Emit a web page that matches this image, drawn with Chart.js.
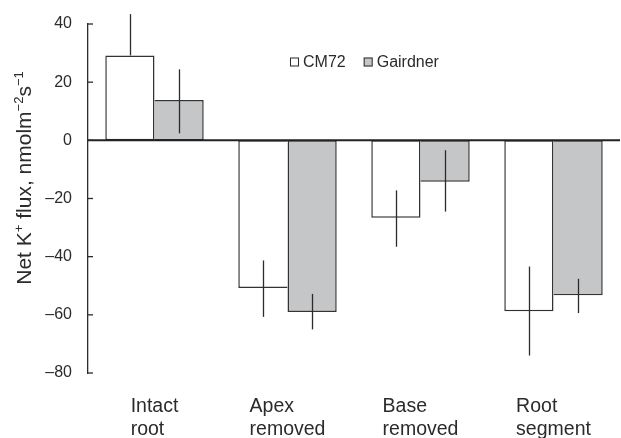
<!DOCTYPE html>
<html>
<head>
<meta charset="utf-8">
<script src="https://cdn.jsdelivr.net/npm/chart.js@4.4.0/dist/chart.umd.min.js"></script>
<style>
  html, body { margin: 0; padding: 0; background: #fff; }
  canvas { display: block; }
</style>
</head>
<body>
<canvas id="flux" width="621" height="438"></canvas>
<script>
(function() {
  'use strict';

  // treatments (one group of bars each)
  const categories = [["Intact", "root"], ["Apex", "removed"], ["Base", "removed"], ["Root", "segment"]];

  // net K+ flux, nmol m-2 s-1
  const cm72 = [29.2, -50.8, -26.6, -58.8];
  const gairdner = [13.9, -59, -14.2, -53.3];

  // error bar arms, up and down from the bar end
  const cm72ErrUp = [14.2, 9.5, 9.4, 15.4];
  const cm72ErrDown = [0, 9.9, 10, 15.2];
  const gairdnerErrUp = [10.5, 6.2, 10.8, 5.7];
  const gairdnerErrDown = [11.5, 6, 10.3, 6.1];

  const yMin = -80;
  const yMax = 40;
  const yStep = 20;

  const INK = '#2b2b2b';
  const FONT = '"Liberation Sans", Arial, sans-serif';

  const errors = [
    { up: cm72ErrUp, down: cm72ErrDown },
    { up: gairdnerErrUp, down: gairdnerErrDown }
  ];

  //Zero line, over the bar bases
  const zeroLine = {
    id: 'zeroLine',
    afterDatasetsDraw(chart) {
      const ctx = chart.ctx;
      const a = chart.chartArea;
      const py = chart.scales.y.getPixelForValue(0);
      ctx.save();
      ctx.strokeStyle = '#222';
      ctx.lineWidth = 2;
      ctx.beginPath();
      ctx.moveTo(a.left, py);
      ctx.lineTo(a.right, py);
      ctx.stroke();
      ctx.restore();
    }
  };

  //Error bars, no caps
  const errorBars = {
    id: 'errorBars',
    afterDatasetsDraw(chart) {
      const ctx = chart.ctx;
      const y = chart.scales.y;
      ctx.save();
      ctx.strokeStyle = INK;
      ctx.lineWidth = 1.3;
      chart.data.datasets.forEach(function(ds, i) {
        chart.getDatasetMeta(i).data.forEach(function(bar, j) {
          const v = ds.data[j];
          const top = y.getPixelForValue(v + errors[i].up[j]);
          const bottom = y.getPixelForValue(v - errors[i].down[j]);
          ctx.beginPath();
          ctx.moveTo(Math.round(bar.x) + 0.5, top);
          ctx.lineTo(Math.round(bar.x) + 0.5, bottom);
          ctx.stroke();
        });
      });
      ctx.restore();
    }
  };

  //Inward tick marks on the y axis
  const innerTicks = {
    id: 'innerTicks',
    afterDraw(chart) {
      const ctx = chart.ctx;
      const y = chart.scales.y;
      const left = chart.chartArea.left;
      ctx.save();
      ctx.strokeStyle = INK;
      ctx.lineWidth = 1.3;
      y.ticks.forEach(function(t) {
        const py = y.getPixelForValue(t.value);
        ctx.beginPath();
        ctx.moveTo(left, py);
        ctx.lineTo(left + 5, py);
        ctx.stroke();
      });
      ctx.restore();
    }
  };

  //Category labels, two lines, left aligned inside a block centred on the group
  const categoryLabels = {
    id: 'categoryLabels',
    afterDraw(chart) {
      const ctx = chart.ctx;
      const x = chart.scales.x;
      ctx.save();
      ctx.font = '19.5px ' + FONT;
      ctx.fillStyle = INK;
      ctx.textAlign = 'left';
      ctx.textBaseline = 'alphabetic';
      categories.forEach(function(lines, i) {
        const cx = x.getPixelForValue(i);
        const w = Math.max.apply(null, lines.map(function(s) { return ctx.measureText(s).width; }));
        lines.forEach(function(s, k) {
          ctx.fillText(s, cx - w / 2, 411.5 + k * 23.4);
        });
      });
      ctx.restore();
    }
  };

  //Legend inside the plot
  const boxLegend = {
    id: 'boxLegend',
    afterDraw(chart) {
      const ctx = chart.ctx;
      let px = 290;
      const cy = 62;
      ctx.save();
      ctx.font = '16px ' + FONT;
      ctx.textBaseline = 'middle';
      chart.data.datasets.forEach(function(ds) {
        ctx.fillStyle = ds.backgroundColor;
        ctx.fillRect(px, cy - 4.5, 9, 9);
        ctx.strokeStyle = INK;
        ctx.lineWidth = 1;
        ctx.strokeRect(px + 0.5, cy - 4.5 + 0.5, 8, 8);
        ctx.fillStyle = INK;
        ctx.fillText(ds.label, px + 13, cy + 1);
        px += 13 + ctx.measureText(ds.label).width + 18;
      });
      ctx.restore();
    }
  };

  //Y axis title with superscripts
  const yTitle = {
    id: 'yTitle',
    afterDraw(chart) {
      const ctx = chart.ctx;
      const parts = [
        ['Net K', 0], ['+', 1], [' flux, nmolm', 0], ['\u22122', 1], ['s', 0], ['\u22121', 1]
      ];
      const big = '21px ' + FONT;
      const small = '13px ' + FONT;
      ctx.save();
      let total = 0;
      parts.forEach(function(p) {
        ctx.font = p[1] ? small : big;
        total += ctx.measureText(p[0]).width;
      });
      ctx.translate(30.5, 178 + total / 2);
      ctx.rotate(-Math.PI / 2);
      ctx.fillStyle = INK;
      ctx.textBaseline = 'alphabetic';
      let px = 0;
      parts.forEach(function(p) {
        ctx.font = p[1] ? small : big;
        ctx.fillText(p[0], px, p[1] ? -8 : 0);
        px += ctx.measureText(p[0]).width;
      });
      ctx.restore();
    }
  };

  // the shared edge of a pair is drawn once, by the longer bar
  function gairdnerBorder(c) {
    const i = c.dataIndex;
    const cmLonger = Math.abs(cm72[i]) >= Math.abs(gairdner[i]);
    return { top: 1.5, bottom: 1.5, right: 1.5, left: cmLonger ? 0 : 1.5 };
  }

  function cm72Border(c) {
    const i = c.dataIndex;
    const cmLonger = Math.abs(cm72[i]) >= Math.abs(gairdner[i]);
    return { top: 1.5, bottom: 1.5, left: 1.5, right: cmLonger ? 1.5 : 0 };
  }

  new Chart(document.getElementById('flux'), {
    type: 'bar',
    data: {
      labels: categories,
      datasets: [
        {
          label: 'CM72',
          data: cm72,
          backgroundColor: '#ffffff',
          borderColor: '#333',
          borderWidth: cm72Border,
          borderSkipped: false
        },
        {
          label: 'Gairdner',
          data: gairdner,
          backgroundColor: '#c5c6c8',
          borderColor: '#333',
          borderWidth: gairdnerBorder,
          borderSkipped: false
        }
      ]
    },
    options: {
      responsive: false,
      animation: false,
      devicePixelRatio: 1,
      layout: { padding: { top: 24, right: 1, left: 0, bottom: 0 } },
      datasets: { bar: { categoryPercentage: 0.74, barPercentage: 1 } },
      plugins: {
        legend: { display: false },
        tooltip: { enabled: false }
      },
      scales: {
        x: {
          grid: { display: false },
          border: { display: false },
          ticks: { display: false },
          afterFit: function(scale) { scale.height = 65; }
        },
        y: {
          min: yMin,
          max: yMax,
          ticks: {
            stepSize: yStep,
            padding: 8,
            color: INK,
            font: { family: FONT, size: 16 },
            callback: function(v) { return String(v).replace('-', '\u2013'); }
          },
          grid: { display: false },
          border: { display: true, color: INK, width: 1.3 },
          afterFit: function(scale) { scale.width = 88; }
        }
      }
    },
    plugins: [zeroLine, errorBars, innerTicks, categoryLabels, boxLegend, yTitle]
  });
})();
</script>
</body>
</html>
